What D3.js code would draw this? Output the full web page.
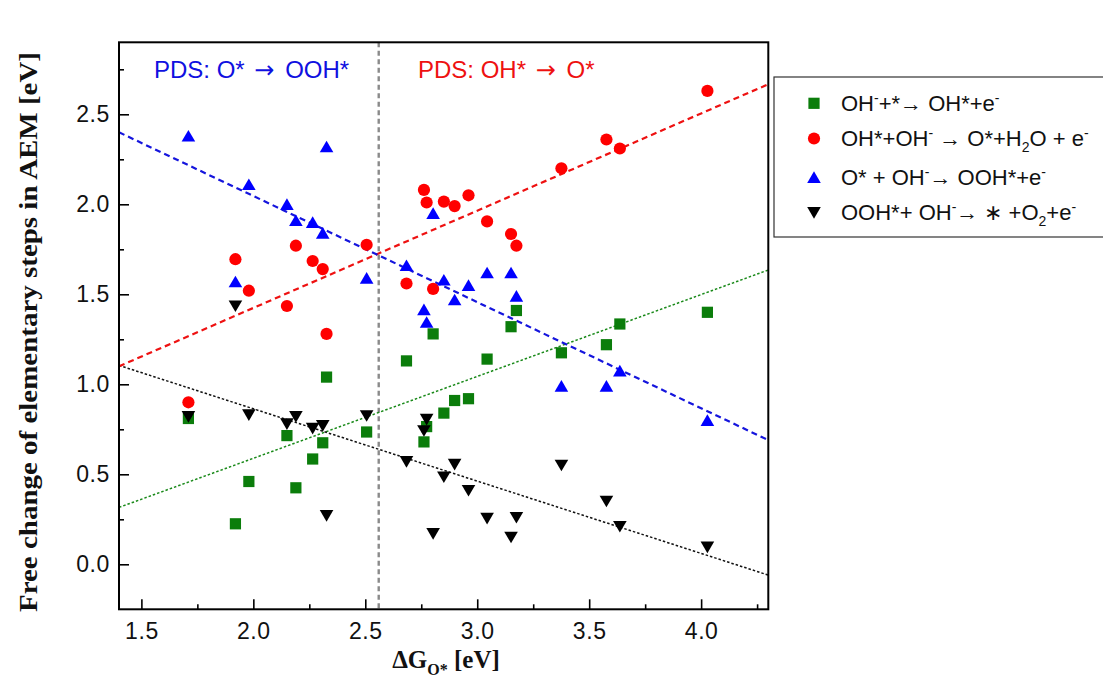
<!DOCTYPE html>
<html>
<head>
<meta charset="utf-8">
<script src="https://cdn.jsdelivr.net/npm/d3@7"></script>
<style>
  html, body { margin: 0; padding: 0; background: #ffffff; }
  svg { display: block; }
  .tick text { font-family: "Liberation Sans", Arial, sans-serif; }
</style>
</head>
<body>
<svg id="chart" width="1103" height="684"></svg>
<script>
// ---- data ----
const dGO = [1.71, 1.92, 1.98, 2.15, 2.19, 2.265, 2.31, 2.327, 2.506, 2.684, 2.762, 2.774, 2.803, 2.851, 2.899, 2.961, 3.044, 3.151, 3.175, 3.376, 3.577, 3.637, 4.028];
const stepOH  = [0.81, 0.225, 0.46, 0.715, 0.425, 0.585, 0.675, 1.04, 0.735, 1.13, 0.68, 0.765, 1.28, 0.84, 0.91, 0.92, 1.14, 1.32, 1.41, 1.175, 1.22, 1.335, 1.40];
const stepO   = [0.90, 1.695, 1.52, 1.435, 1.77, 1.685, 1.64, 1.28, 1.775, 1.56, 2.08, 2.01, 1.53, 2.015, 1.99, 2.05, 1.905, 1.835, 1.77, 2.20, 2.36, 2.31, 2.63];
const stepOOH = [2.38, 1.57, 2.11, 2.00, 1.91, 1.90, 1.84, 2.32, 1.59, 1.66, 1.415, 1.345, 1.95, 1.58, 1.47, 1.55, 1.62, 1.62, 1.49, 0.99, 0.99, 1.075, 0.80];
const stepO2  = [0.82, 1.435, 0.83, 0.78, 0.82, 0.755, 0.77, 0.27, 0.825, 0.57, 0.742, 0.805, 0.17, 0.485, 0.555, 0.41, 0.255, 0.15, 0.26, 0.55, 0.35, 0.21, 0.095];

const fitX      = [1.4, 4.3];
const fitOH     = [0.316, 1.635];
const fitO      = [1.10, 2.667];
const fitOOH    = [2.40, 0.69];
const fitO2     = [1.105, -0.06];
const pdsBoundary = 2.56;

const xMajorTicks = [1.5, 2.0, 2.5, 3.0, 3.5, 4.0];
const xMinorTicks = [1.75, 2.25, 2.75, 3.25, 3.75, 4.25];
const yMajorTicks = [0.0, 0.5, 1.0, 1.5, 2.0, 2.5];
const yMinorTicks = [0.25, 0.75, 1.25, 1.75, 2.25, 2.75];

// ---- layout ----
const L = 119, R = 768.3, T = 42.3, B = 609.3;
const svg = d3.select("#chart");
const x = d3.scaleLinear().domain([1.4, 4.3]).range([L, R]);
const y = d3.scaleLinear().domain([-0.25, 2.9]).range([B, T]);

svg.append("rect").attr("width", 1103).attr("height", 684).attr("fill", "#ffffff");

// axes
const fmt = d3.format(".1f");
svg.append("g").attr("transform", `translate(0,${B})`)
  .call(d3.axisBottom(x).tickValues(xMajorTicks).tickSize(-10).tickPadding(13).tickFormat(fmt));
svg.append("g").attr("transform", `translate(0,${B})`)
  .call(d3.axisBottom(x).tickValues(xMinorTicks).tickSize(-5).tickFormat(""));
svg.append("g").attr("transform", `translate(${L},0)`)
  .call(d3.axisLeft(y).tickValues(yMajorTicks).tickSize(-10).tickPadding(9).tickFormat(fmt));
svg.append("g").attr("transform", `translate(${L},0)`)
  .call(d3.axisLeft(y).tickValues(yMinorTicks).tickSize(-5).tickFormat(""));
svg.selectAll(".domain").remove();
svg.selectAll(".tick line").attr("stroke", "#000").attr("stroke-width", 1.6);
svg.selectAll(".tick text").attr("font-size", 23).attr("fill", "#111").attr("letter-spacing", "0.6px");

// vertical PDS boundary
svg.append("line")
  .attr("x1", x(pdsBoundary)).attr("x2", x(pdsBoundary))
  .attr("y1", T).attr("y2", B)
  .attr("stroke", "#8a8a8a").attr("stroke-width", 2.4).attr("stroke-dasharray", "5,3.5");

// fit lines
const line = d3.line().x(d => x(d[0])).y(d => y(d[1]));
function fit(vals, color, dash, width) {
  svg.append("path").datum(fitX.map((v, i) => [v, vals[i]]))
    .attr("d", line).attr("fill", "none").attr("stroke", color)
    .attr("stroke-width", width).attr("stroke-dasharray", dash);
}
fit(fitOH, "#1a8a1a", "2.5,2", 1.5);
fit(fitO2, "#111111", "2.5,2", 1.5);
fit(fitO, "#ee1111", "6,4", 2.2);
fit(fitOOH, "#1515dd", "6,4", 2.2);

// markers
const colGreen = "#0b7d0b", colRed = "#ff0000", colBlue = "#0000ff", colBlack = "#000000";
const triUp = "M0,-6L6.8,5.6L-6.8,5.6Z";
const triDown = "M0,6L6.8,-5.6L-6.8,-5.6Z";
const plot = svg.append("g");

function markers(vals, kind, color) {
  const g = plot.append("g");
  const data = dGO.map((v, i) => [v, vals[i]]);
  if (kind === "square") {
    g.selectAll("rect").data(data).join("rect")
      .attr("x", d => x(d[0]) - 5.6).attr("y", d => y(d[1]) - 5.6)
      .attr("width", 11.2).attr("height", 11.2).attr("fill", color);
  } else if (kind === "circle") {
    g.selectAll("circle").data(data).join("circle")
      .attr("cx", d => x(d[0])).attr("cy", d => y(d[1])).attr("r", 6.1).attr("fill", color);
  } else {
    g.selectAll("path").data(data).join("path")
      .attr("d", kind === "up" ? triUp : triDown)
      .attr("transform", d => `translate(${x(d[0])},${y(d[1])})`).attr("fill", color);
  }
}
markers(stepOH, "square", colGreen);
markers(stepO, "circle", colRed);
markers(stepOOH, "up", colBlue);
markers(stepO2, "down", colBlack);

// frame
svg.append("rect").attr("x", L).attr("y", T).attr("width", R - L).attr("height", B - T)
  .attr("fill", "none").attr("stroke", "#000").attr("stroke-width", 2);

// PDS labels
const sans = "'Liberation Sans', Arial, sans-serif";
function pds(xpos, color, before, after) {
  const t = svg.append("text").attr("x", xpos).attr("y", 77.5).attr("font-family", sans)
    .attr("font-size", 24).attr("fill", color);
  t.append("tspan").text(before);
  t.append("tspan").attr("font-family", "'DejaVu Sans', sans-serif").attr("font-size", 24)
    .attr("dx", 3).text("\u2192");
  t.append("tspan").attr("dx", 4).text(after);
}
pds(154, "#1010e0", "PDS: O* ", " OOH*");
pds(418, "#ee1111", "PDS: OH* ", " O*");

// axis titles
const serif = "'Liberation Serif', 'Times New Roman', serif";
const xt = svg.append("text").attr("x", 446).attr("y", 668).attr("text-anchor", "middle")
  .attr("font-family", serif).attr("font-weight", "bold").attr("font-size", 25).attr("fill", "#111");
xt.append("tspan").text("\u0394G");
xt.append("tspan").attr("font-size", 16).attr("dy", 7).text("O*");
xt.append("tspan").attr("dy", -7).text(" [eV]");

svg.append("text").attr("transform", "translate(37,332) rotate(-90)").attr("text-anchor", "middle")
  .attr("font-family", serif).attr("font-weight", "bold").attr("font-size", 26).attr("fill", "#111")
  .attr("textLength", 560).attr("lengthAdjust", "spacingAndGlyphs")
  .text("Free change of elementary steps in AEM [eV]");

// legend
svg.append("rect").attr("x", 774).attr("y", 77).attr("width", 340).attr("height", 160)
  .attr("fill", "#fff").attr("stroke", "#333").attr("stroke-width", 1.2);

const legendRows = [
  { kind: "square", color: colGreen, cy: 103.3, base: 110.7,
    parts: [["OH"], ["-", "sup"], ["+*\u2192 OH*+e"], ["-", "sup"]] },
  { kind: "circle", color: colRed, cy: 138.5, base: 146,
    parts: [["OH*+OH"], ["-", "sup"], [" \u2192 O*+H"], ["2", "sub"], ["O + e"], ["-", "sup"]] },
  { kind: "up", color: colBlue, cy: 177.3, base: 185,
    parts: [["O* + OH"], ["-", "sup"], ["\u2192 OOH*+e"], ["-", "sup"]] },
  { kind: "down", color: colBlack, cy: 212.7, base: 220,
    parts: [["OOH*+ OH"], ["-", "sup"], ["\u2192 \u2217 +O"], ["2", "sub"], ["+e"], ["-", "sup"]] }
];
legendRows.forEach(r => {
  if (r.kind === "square") {
    svg.append("rect").attr("x", 814 - 5.6).attr("y", r.cy - 5.6).attr("width", 11.2).attr("height", 11.2).attr("fill", r.color);
  } else if (r.kind === "circle") {
    svg.append("circle").attr("cx", 814).attr("cy", r.cy).attr("r", 6.1).attr("fill", r.color);
  } else {
    svg.append("path").attr("d", r.kind === "up" ? triUp : triDown)
      .attr("transform", `translate(814,${r.cy})`).attr("fill", r.color);
  }
  const t = svg.append("text").attr("x", 841).attr("y", r.base).attr("font-family", sans)
    .attr("font-size", 22).attr("fill", "#111");
  let shift = 0;
  r.parts.forEach(p => {
    const target = p[1] === "sup" ? -8 : p[1] === "sub" ? 6 : 0;
    const ts = t.append("tspan").attr("dy", target - shift).text(p[0]);
    if (p[1]) ts.attr("font-size", 14);
    shift = target;
  });
});
</script>
</body>
</html>
